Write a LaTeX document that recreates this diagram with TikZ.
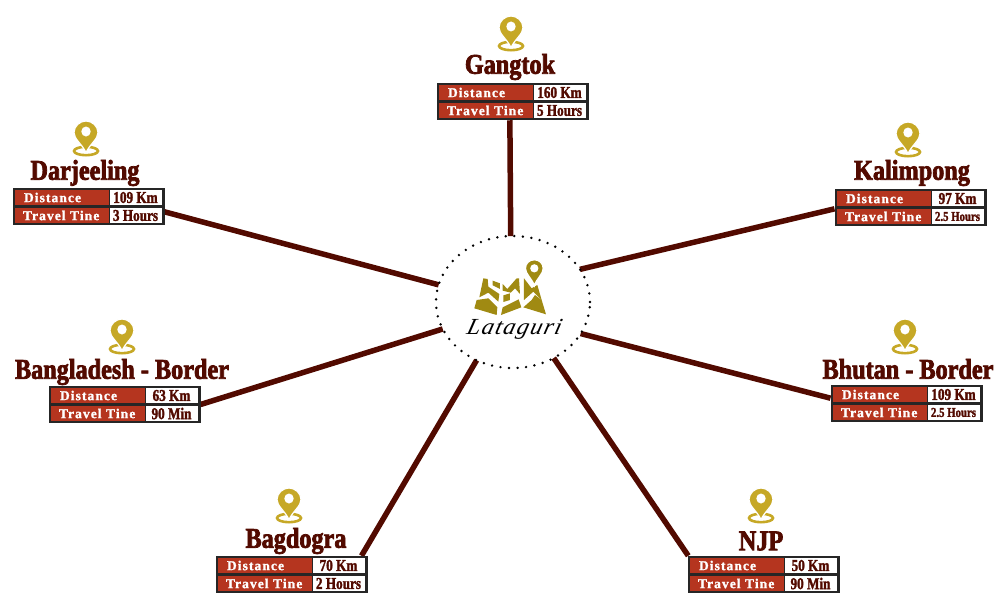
\documentclass[tikz,border=0pt]{standalone}
\usepackage{fontspec}
\usetikzlibrary{shapes.geometric,backgrounds,calc}
\newfontfamily\fatf[FakeStretch=0.85,FakeBold=2.6]{Liberation Serif Bold}
\newfontfamily\labf[LetterSpace=8,FakeBold=1.4]{Liberation Serif Bold}
\newfontfamily\valf[FakeStretch=0.8,FakeBold=1.6]{Liberation Serif Bold}
\newfontfamily\scrf[LetterSpace=6,FakeSlant=0.25,FakeStretch=1.05]{Liberation Serif Italic}
\definecolor{maroon}{HTML}{520A00}
\definecolor{brick}{HTML}{B5351F}
\definecolor{gold}{HTML}{C6A826}
\definecolor{mapgold}{HTML}{A08A12}
\tikzset{
  x=1pt,y=-1pt,
  cardbox/.style={draw=none,fill=black!85,minimum width=152pt,minimum height=37.5pt,inner sep=0pt,outer sep=0pt},
  redcell/.style={fill=brick,text=white,minimum width=94pt,minimum height=15.5pt,inner sep=0pt,font=\labf\fontsize{13.5}{13.5}\selectfont},
  whitecell/.style={fill=white,text=maroon,minimum width=52pt,minimum height=15.5pt,inner sep=0pt,font=\valf\fontsize{16.5}{16.5}\selectfont},
  placetitle/.style={text=maroon,inner sep=0pt,font=\fatf\fontsize{28.5}{28.5}\selectfont},
  link/.style={draw=maroon,line width=5.5pt},
  hubring/.style={ellipse,draw=black,line width=2.7pt,line cap=round,dash pattern=on 0pt off 8.55pt,minimum width=154pt,minimum height=132pt,inner sep=0pt,outer sep=0pt}
}
\newcommand{\cardat}[5]{%
  \node[cardbox] (#1) at ({#2+75.5},{#3+18.5}) {};
  \node[redcell] (#1-da) at ({#2+48.5},{#3+9.5}) {\makebox[94pt][l]{\hspace{9.5pt}Distance}};
  \node[redcell] (#1-ta) at ({#2+48.5},{#3+27.5}) {\makebox[94pt][l]{\hspace{8.5pt}Travel Tine}};
  \node[whitecell] (#1-dv) at ({#2+122.5},{#3+9.5}) {#4};
  \node[whitecell] (#1-tv) at ({#2+122.5},{#3+27.5}) {#5};
}
\newcommand{\pinat}[2]{%
  \begin{scope}[shift={(#1,#2)}]
    \draw[gold,line width=2.6pt] (0,29) ellipse [x radius=12,y radius=4.2];
    \fill[gold,draw=white,line width=1.2pt] (0,30.5) .. controls (-4,22) and (-12,17) .. (-12,10.7)
      .. controls (-12,4) and (-6,-1) .. (0,-1) .. controls (6,-1) and (12,4) .. (12,10.7)
      .. controls (12,17) and (4,22) .. (0,30.5) -- cycle;
    \fill[white] (0,9.5) ellipse [x radius=4.7,y radius=5];
  \end{scope}
}
\begin{document}
\begin{tikzpicture}
\useasboundingbox (0,0) rectangle (1000,610);

\node[hubring] (hub) at (513,302) {};

\begin{scope}[shift={(420,220)},x=0.3333pt,y=-0.3333pt,mapgold]
  \fill (190,175) -- (203,177) -- (205,200) -- (238,222) -- (235,245) -- (205,218) -- (178,232) -- cycle;
  \fill (218,182) -- (240,190) -- (240,207) -- (218,196) -- cycle;
  \fill (170,240) -- (205,235) -- (232,262) -- (230,285) -- (163,265) -- cycle;
  \fill (248,192) -- (262,207) -- (290,175) -- (297,175) -- (300,222) -- (285,205) -- (272,218) -- (248,212) -- cycle;
  \fill (250,226) -- (270,220) -- (270,240) -- (250,246) -- cycle;
  \fill (296,238) -- (304,262) -- (243,285) -- (248,262) -- cycle;
  \fill (312,175) -- (335,205) -- (352,195) -- (365,240) -- (340,215) -- (312,240) -- cycle;
  \fill (345,225) -- (365,240) -- (378,283) -- (310,262) -- (335,240) -- cycle;
  \fill[even odd rule,draw=white,line width=1.5pt] (343,197) .. controls (335,175) and (316,162) .. (316,145)
     .. controls (316,130) and (328,119) .. (343,119) .. controls (358,119) and (370,130) .. (370,145)
     .. controls (370,162) and (351,175) .. (343,197) -- cycle
     (353,145) arc [radius=10,start angle=0,end angle=360];
\end{scope}
\node[inner sep=0pt,text=black] (hubname) at (513,329) {\scrf\fontsize{23}{23}\selectfont Lataguri};

\cardat{gangtok}{437}{83}{160 Km}{5 Hours}
\node[placetitle] (gangtok-t) at (510,67) {Gangtok};
\pinat{511}{17}

\cardat{darj}{13}{188}{109 Km}{3 Hours}
\node[placetitle] (darj-t) at (85,173) {Darjeeling};
\pinat{86}{122}

\cardat{kalim}{835}{189}{97 Km}{\fontsize{13.5}{13.5}\selectfont 2.5 Hours}
\node[placetitle] (kalim-t) at (912,173) {Kalimpong};
\pinat{908}{123}

\cardat{bhutan}{831}{385}{109 Km}{\fontsize{13.5}{13.5}\selectfont 2.5 Hours}
\node[placetitle] (bhutan-t) at (908,369) {Bhutan - Border};
\pinat{905}{320}

\cardat{bangla}{49}{386}{63 Km}{90 Min}
\node[placetitle] (bangla-t) at (122,372) {Bangladesh - Border};
\pinat{122}{320}

\cardat{bagd}{216}{556}{70 Km}{2 Hours}
\node[placetitle] (bagd-t) at (296,541) {Bagdogra};
\pinat{289}{489}

\cardat{njp}{688}{556}{50 Km}{90 Min}
\node[placetitle] (njp-t) at (761,541) {NJP};
\pinat{761}{489}

\begin{pgfonlayer}{background}
  \draw[link] (gangtok.-98) -- (hub.92.6);
  \draw[link] (darj.-4) -- (hub.167);
  \draw[link] (kalim.181) -- (hub.26);
  \draw[link] (bhutan.176.5) -- (hub.335);
  \draw[link] (bangla.0) -- (hub.201);
  \draw[link] (bagd.15.4) -- (hub.238);
  \draw[link] (njp.166.7) -- (hub.306);
\end{pgfonlayer}
\end{tikzpicture}
\end{document}
